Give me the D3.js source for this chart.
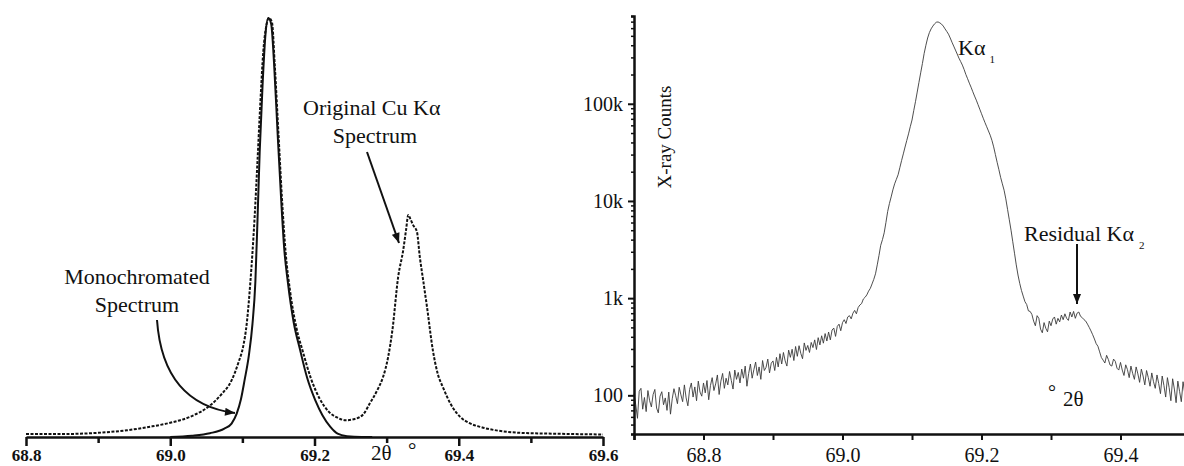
<!DOCTYPE html>
<html>
<head>
<meta charset="utf-8">
<script src="https://cdn.jsdelivr.net/npm/d3@7"></script>
<style>
  html, body { margin: 0; padding: 0; background: #fff; }
  svg { display: block; font-family: "Liberation Serif", "Times New Roman", serif; }
</style>
</head>
<body>
<svg id="chart" width="1184" height="466"></svg>
<script>
// ---- Left panel: original Cu K-alpha doublet vs monochromated profile (linear intensity, % of peak)
const originalTheta = [68.800, 68.850, 68.900, 68.940, 68.970, 69.000, 69.030, 69.055, 69.070, 69.085,
  69.095, 69.101, 69.106, 69.111, 69.117, 69.121, 69.125, 69.129, 69.133, 69.137,
  69.141, 69.145, 69.150, 69.155, 69.160, 69.166, 69.175, 69.184, 69.195, 69.207,
  69.220, 69.232, 69.243, 69.256, 69.268, 69.277, 69.288, 69.295, 69.302, 69.308,
  69.316, 69.323, 69.327, 69.330, 69.333, 69.337, 69.342, 69.346, 69.351, 69.356,
  69.364, 69.371, 69.378, 69.390, 69.402, 69.415, 69.430, 69.455, 69.485, 69.530, 69.600];
const originalIntensity = [0.7, 0.7, 1.0, 1.6, 2.4, 3.4, 5.0, 7.5, 10.0, 13.5,
  18.0, 21.5, 27.0, 36.8, 52.5, 66.0, 80.0, 92.0, 98.0, 100,
  99.0, 88.5, 72.5, 56.6, 44.0, 35.0, 26.0, 20.3, 14.0, 9.2,
  6.0, 4.6, 4.0, 4.3, 5.5, 8.1, 11.5, 14.3, 19.0, 25.5,
  38.2, 44.6, 49.5, 53.0, 52.0, 50.5, 49.0, 43.0, 37.0, 31.0,
  20.8, 15.0, 11.9, 7.5, 4.8, 3.3, 2.4, 1.5, 1.0, 0.8, 0.6];

const monoTheta = [69.000, 69.030, 69.055, 69.075, 69.085, 69.092, 69.098, 69.103, 69.109, 69.114,
  69.118, 69.121, 69.124, 69.128, 69.132, 69.136, 69.140, 69.144, 69.149, 69.154,
  69.158, 69.163, 69.171, 69.180, 69.190, 69.201, 69.211, 69.222, 69.232, 69.245, 69.265, 69.280];
const monoIntensity = [0, 0.3, 0.9, 2.0, 3.2, 5.5, 9.0, 13.5, 19.5, 27.0,
  37.0, 52.0, 68.0, 84.0, 96.0, 100, 98.5, 89.0, 72.0, 56.0,
  45.0, 37.0, 27.5, 20.8, 14.0, 8.8, 5.2, 2.4, 0.8, 0.2, 0, 0];

const leftTicks = [68.8, 68.9, 69.0, 69.1, 69.2, 69.3, 69.4, 69.5, 69.6];
const leftTickLabels = ["68.8", "", "69.0", "", "69.2", "", "69.4", "", "69.6"];

// ---- Right panel: monochromated scan on a log scale
const scanStart = 68.700;   // first 2θ point of the scan
const scanStep = 0.0025;    // 2θ step between points
const scanCounts = [
  104, 80, 58, 110, 118, 72, 95, 68, 112, 88, 76, 102, 115, 74, 66, 98, 109, 80, 94, 70,
  108, 64, 92, 117, 99, 82, 121, 101, 86, 128, 94, 78, 115, 134, 96, 122, 88, 140, 108, 98,
  134, 106, 142, 90, 126, 152, 112, 131, 162, 102, 140, 168, 118, 150, 128, 176, 142, 116, 182, 146,
  172, 134, 186, 150, 200, 124, 168, 210, 150, 184, 220, 160, 196, 146, 228, 180, 194, 236, 170, 214,
  226, 180, 246, 196, 268, 210, 276, 226, 200, 292, 246, 298, 228, 318, 252, 324, 270, 238, 346, 290,
  326, 276, 350, 310, 372, 296, 392, 330, 410, 344, 432, 362, 448, 372, 470, 492, 404, 512, 540, 462,
  560, 600, 548, 640, 660, 612, 700, 748, 690, 800, 850, 880, 980, 1020, 1080, 1180, 1260, 1400, 1560, 1780,
  2200, 2750, 3500, 4000, 4700, 6000, 7800, 9400, 11000, 13000, 15000, 16700, 18600, 22000, 26000, 30500, 35900, 42000, 49000, 58000,
  68000, 85000, 105000, 132000, 166000, 208000, 260000, 330000, 400000, 475000, 540000, 590000, 630000, 665000, 690000, 695000, 680000, 660000, 630000, 590000,
  555000, 520000, 475000, 430000, 392000, 357000, 325000, 295000, 272000, 250000, 225000, 200000, 181000, 163000, 148000, 133000, 120000, 109000, 98000, 88000,
  79000, 71000, 64000, 58000, 52500, 47500, 42000, 36000, 30000, 25000, 21000, 17500, 15000, 12900, 10500, 8200, 6400, 5000, 3800, 2900,
  2200, 1730, 1420, 1200, 1050, 920, 860, 740, 730, 680, 580, 520, 660, 620, 480, 440, 560, 490, 450, 580,
  520, 610, 640, 540, 620, 570, 670, 600, 690, 620, 590, 720, 640, 730, 620, 700, 720, 650, 630, 600,
  580, 540, 500, 460, 420, 380, 340, 320, 280, 245, 230, 215, 258, 234, 205, 200, 236, 224, 190, 182,
  218, 182, 160, 206, 184, 152, 200, 168, 146, 196, 166, 136, 186, 158, 128, 180, 152, 124, 170, 138,
  118, 162, 132, 104, 158, 126, 96, 152, 120, 88, 148, 116, 84, 140, 110, 86, 138, 104, 92, 126];

const rightTicks = [68.7, 68.8, 68.9, 69.0, 69.1, 69.2, 69.3, 69.4, 69.5];
const rightTickLabels = ["", "68.8", "", "69.0", "", "69.2", "", "69.4", ""];
const countMajor = [100, 1000, 10000, 100000];
const countLabels = ["100", "1k", "10k", "100k"];
const countMinor = [40, 50, 60, 70, 80, 90, 200, 300, 400, 500, 600, 700, 800, 900,
  2000, 3000, 4000, 5000, 6000, 7000, 8000, 9000,
  20000, 30000, 40000, 50000, 60000, 70000, 80000, 90000,
  200000, 300000, 400000, 500000, 600000, 700000, 800000];

const svg = d3.select("#chart");

// arrowhead
svg.append("defs").append("marker")
  .attr("id", "head")
  .attr("viewBox", "0 0 10 8")
  .attr("refX", 10).attr("refY", 4)
  .attr("markerWidth", 11).attr("markerHeight", 8)
  .attr("markerUnits", "userSpaceOnUse")
  .attr("orient", "auto")
  .append("path").attr("d", "M0,0 L10,4 L0,8 Z").attr("fill", "#111");

// ================= Left panel =================
const xL = d3.scaleLinear().domain([68.8, 69.6]).range([26, 603]);
const yL = d3.scaleLinear().domain([0, 100]).range([437, 18]);

const left = svg.append("g");

const lineL = d3.line().x(d => xL(d[0])).y(d => yL(d[1])).curve(d3.curveMonotoneX);

left.append("path")
  .datum(d3.zip(monoTheta, monoIntensity))
  .attr("d", lineL)
  .attr("fill", "none").attr("stroke", "#111").attr("stroke-width", 2);

left.append("path")
  .datum(d3.zip(originalTheta, originalIntensity))
  .attr("d", lineL)
  .attr("fill", "none").attr("stroke", "#111").attr("stroke-width", 2)
  .attr("stroke-dasharray", "3,1.5");

const axisL = left.append("g").attr("transform", "translate(0,437)")
  .call(d3.axisBottom(xL).tickValues(leftTicks).tickSizeOuter(0)
    .tickSize(0).tickFormat(""));
axisL.select(".domain").attr("stroke", "#111").attr("stroke-width", 2.5);
axisL.selectAll(".tick line").remove();
axisL.selectAll(".tick").each(function(d, i) {
  const g = d3.select(this);
  const major = leftTickLabels[i] !== "";
  g.append("line").attr("y1", 0).attr("y2", major ? 9 : 6)
    .attr("stroke", "#111").attr("stroke-width", 2.5);
  if (major) {
    g.append("text").attr("y", 24).attr("text-anchor", "middle")
      .attr("fill", "#111").attr("font-weight", "bold").attr("font-size", 17)
      .attr("font-family", "Liberation Serif, serif")
      .text(leftTickLabels[i]);
  }
});

left.append("text").attr("x", 371).attr("y", 460).attr("font-size", 21).attr("fill", "#111")
  .text("2θ");
left.append("text").attr("x", 408).attr("y", 457).attr("font-size", 21).attr("fill", "#111")
  .text("°");

// annotations
left.append("text").attr("x", 303).attr("y", 115).attr("font-size", 22).attr("fill", "#111")
  .text("Original Cu Kα");
left.append("text").attr("x", 375).attr("y", 143).attr("font-size", 22).attr("fill", "#111")
  .attr("text-anchor", "middle").text("Spectrum");
left.append("line").attr("x1", 367).attr("y1", 152).attr("x2", 399).attr("y2", 243)
  .attr("stroke", "#111").attr("stroke-width", 2).attr("marker-end", "url(#head)");

left.append("text").attr("x", 137).attr("y", 284).attr("font-size", 22).attr("fill", "#111")
  .attr("text-anchor", "middle").text("Monochromated");
left.append("text").attr("x", 137).attr("y", 312).attr("font-size", 22).attr("fill", "#111")
  .attr("text-anchor", "middle").text("Spectrum");
left.append("path").attr("d", "M157,320 Q163,404 235,413")
  .attr("fill", "none").attr("stroke", "#111").attr("stroke-width", 2)
  .attr("marker-end", "url(#head)");

// ================= Right panel =================
const xR = d3.scaleLinear().domain([68.7, 69.5]).range([634, 1190]);
const yR = d3.scaleLog().domain([40, 800000]).range([434, 16]);

const right = svg.append("g");

const scan = scanCounts.map((c, i) => [scanStart + i * scanStep, c]);
right.append("path")
  .datum(scan)
  .attr("d", d3.line().x(d => xR(d[0])).y(d => yR(d[1])))
  .attr("fill", "none").attr("stroke", "#3a3a3a").attr("stroke-width", 0.9);

// x axis
const axisRx = right.append("g").attr("transform", "translate(0,434)")
  .call(d3.axisBottom(xR).tickValues(rightTicks).tickSizeOuter(0).tickSize(6)
    .tickPadding(8).tickFormat((d, i) => rightTickLabels[i]));
axisRx.select(".domain").attr("stroke", "#111").attr("stroke-width", 2.5);
axisRx.selectAll(".tick line").attr("stroke", "#111").attr("stroke-width", 2);
axisRx.selectAll(".tick text").attr("font-size", 20).attr("fill", "#111")
  .attr("font-family", "Liberation Serif, serif");

// y axis: minor ticks, then labelled decades
const axisRyMinor = right.append("g").attr("transform", "translate(634,0)")
  .call(d3.axisLeft(yR).tickValues(countMinor).tickSizeOuter(0).tickSize(3).tickFormat(""));
axisRyMinor.select(".domain").attr("stroke", "#111").attr("stroke-width", 2.5);
axisRyMinor.selectAll(".tick line").attr("stroke", "#111").attr("stroke-width", 1.5);

const axisRy = right.append("g").attr("transform", "translate(634,0)")
  .call(d3.axisLeft(yR).tickValues(countMajor).tickSizeOuter(0).tickSize(6).tickPadding(5)
    .tickFormat((d, i) => countLabels[i]));
axisRy.select(".domain").remove();
axisRy.selectAll(".tick line").attr("stroke", "#111").attr("stroke-width", 2);
axisRy.selectAll(".tick text").attr("font-size", 20).attr("fill", "#111")
  .attr("font-family", "Liberation Serif, serif");

right.append("text").attr("transform", "translate(671,137) rotate(-90)")
  .attr("text-anchor", "middle").attr("font-size", 19).attr("fill", "#111")
  .text("X-ray Counts");

// peak labels
const ka1 = right.append("text").attr("x", 958).attr("y", 55).attr("font-size", 22).attr("fill", "#111");
ka1.append("tspan").text("Kα");
ka1.append("tspan").attr("dx", 4).attr("dy", 8).attr("font-size", 11).text("1");

const ka2 = right.append("text").attr("x", 1024).attr("y", 241).attr("font-size", 22).attr("fill", "#111");
ka2.append("tspan").text("Residual Kα");
ka2.append("tspan").attr("dx", 5).attr("dy", 8).attr("font-size", 11).text("2");

right.append("line").attr("x1", 1077).attr("y1", 244).attr("x2", 1077).attr("y2", 304)
  .attr("stroke", "#111").attr("stroke-width", 2).attr("marker-end", "url(#head)");

right.append("text").attr("x", 1048).attr("y", 399).attr("font-size", 20).attr("fill", "#111").text("°");
right.append("text").attr("x", 1063).attr("y", 406).attr("font-size", 21).attr("fill", "#111").text("2θ");
</script>
</body>
</html>
